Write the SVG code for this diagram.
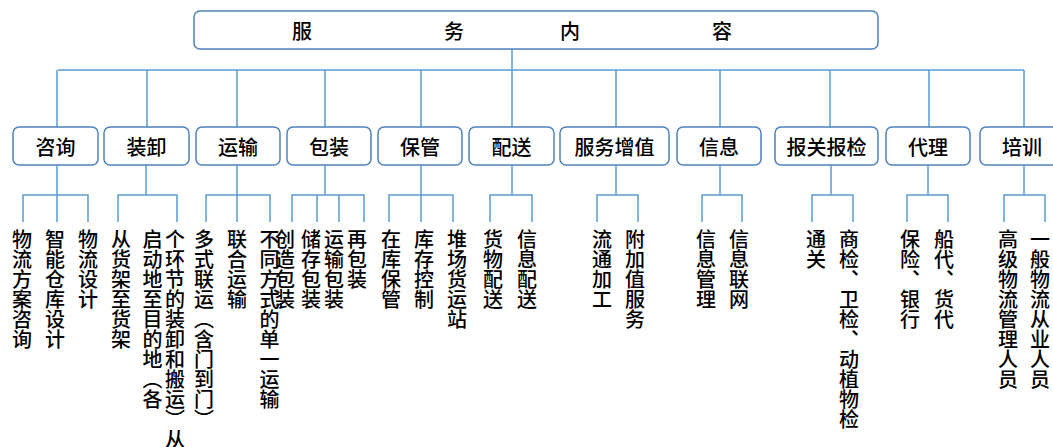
<svg xmlns="http://www.w3.org/2000/svg" width="1053" height="447" viewBox="0 0 1053 447">
<style>
.bg{fill:#fff}
.box{fill:#fff;stroke:#4f81bd;stroke-width:1.5}
.ln{fill:none;stroke:#5b9bd5;stroke-width:1.5}
.t{font-family:"Noto Sans CJK SC","Noto Sans CJK JP",sans-serif;font-size:20px;fill:#000;font-weight:500;text-anchor:middle;dominant-baseline:central}
.v{font-family:"Noto Sans CJK SC","Noto Sans CJK JP",sans-serif;font-size:20px;fill:#000;font-weight:500;writing-mode:vertical-rl;text-anchor:start}
</style>
<rect class="bg" x="0" y="0" width="1053" height="447"/>
<g id="connectors">
<path class="ln" d="M512 49V70M58 70H1024M57 70V127M147 70V127M237 70V127M325 70V127M421 70V127M512 70V127M616 70V127M720 70V127M830 70V127M929 70V127M1024 70V127"/>
<path class="ln" d="M57 165V222M23 222V195H88V222"/>
<path class="ln" d="M146 165V195M118 222V195H177V222"/>
<path class="ln" d="M237 165V222M206 222V195H270V222"/>
<path class="ln" d="M325 165V195M292 222V195H364V222M317 195V222M339 195V222"/>
<path class="ln" d="M421 165V222M389 222V195H453V222"/>
<path class="ln" d="M512 165V195M490 222V195H532V222"/>
<path class="ln" d="M616 165V195M597 222V195H638V222"/>
<path class="ln" d="M720 165V195M702 222V195H742V222"/>
<path class="ln" d="M831 165V195M812 222V195H853V222"/>
<path class="ln" d="M928 165V195M907 222V195H948V222"/>
<path class="ln" d="M1024 165V195M1004 222V195H1045V222"/>
</g>
<g id="root">
<rect class="box" x="194" y="11" width="684" height="38" rx="6"/>
<text class="t" y="30"><tspan x="302">服</tspan><tspan x="454">务</tspan><tspan x="570">内</tspan><tspan x="722">容</tspan></text>
</g>
<g id="n-zixun"><rect class="box" x="13" y="127" width="85" height="38" rx="6"/><text class="t" x="55.5" y="146">咨询</text></g>
<g id="n-zhuangxie"><rect class="box" x="104" y="127" width="85" height="38" rx="6"/><text class="t" x="146.5" y="146">装卸</text></g>
<g id="n-yunshu"><rect class="box" x="196" y="127" width="84" height="38" rx="6"/><text class="t" x="238" y="146">运输</text></g>
<g id="n-baozhuang"><rect class="box" x="287" y="127" width="84" height="38" rx="6"/><text class="t" x="329" y="146">包装</text></g>
<g id="n-baoguan"><rect class="box" x="378" y="127" width="84" height="38" rx="6"/><text class="t" x="420" y="146">保管</text></g>
<g id="n-peisong"><rect class="box" x="469" y="127" width="85" height="38" rx="6"/><text class="t" x="511.5" y="146">配送</text></g>
<g id="n-zengzhi"><rect class="box" x="560" y="127" width="109" height="38" rx="6"/><text class="t" x="614.5" y="146">服务增值</text></g>
<g id="n-xinxi"><rect class="box" x="677" y="127" width="84" height="38" rx="6"/><text class="t" x="719" y="146">信息</text></g>
<g id="n-baoguanbaojian"><rect class="box" x="775" y="127" width="103" height="38" rx="6"/><text class="t" x="826.5" y="146">报关报检</text></g>
<g id="n-daili"><rect class="box" x="886" y="127" width="84" height="38" rx="6"/><text class="t" x="928" y="146">代理</text></g>
<g id="n-peixun"><rect class="box" x="980" y="127" width="84" height="38" rx="6"/><text class="t" x="1022" y="146">培训</text></g>
<g id="leaves">
<text class="v" x="22" y="229">物流方案咨询</text>
<text class="v" x="55" y="229">智能仓库设计</text>
<text class="v" x="88" y="229">物流设计</text>
<text class="v" x="121" y="229">从货架至货架</text>
<text class="v" x="152.5" y="229">启动地至目的地（各</text>
<text class="v" x="175" y="229">个环节的装卸和搬运）从</text>
<text class="v" x="204" y="229">多式联运（含门到门）</text>
<text class="v" x="237" y="229">联合运输</text>
<text class="v" x="269.5" y="229">不同方式的单一运输</text>
<text class="v" x="285" y="229">创造包装</text>
<text class="v" x="311" y="229">储存包装</text>
<text class="v" x="334" y="229">运输包装</text>
<text class="v" x="357" y="229">再包装</text>
<text class="v" x="391" y="229">在库保管</text>
<text class="v" x="424" y="229">库存控制</text>
<text class="v" x="457" y="229">堆场货运站</text>
<text class="v" x="493" y="229">货物配送</text>
<text class="v" x="527" y="229">信息配送</text>
<text class="v" x="602" y="229">流通加工</text>
<text class="v" x="635" y="229">附加值服务</text>
<text class="v" x="706" y="229">信息管理</text>
<text class="v" x="739" y="229">信息联网</text>
<text class="v" x="816" y="229">通关</text>
<text class="v" x="849" y="229">商检、卫检、动植物检</text>
<text class="v" x="910" y="229">保险、银行</text>
<text class="v" x="944" y="229">船代、货代</text>
<text class="v" x="1008" y="229">高级物流管理人员</text>
<text class="v" x="1040" y="229">一般物流从业人员</text>
</g>
</svg>
